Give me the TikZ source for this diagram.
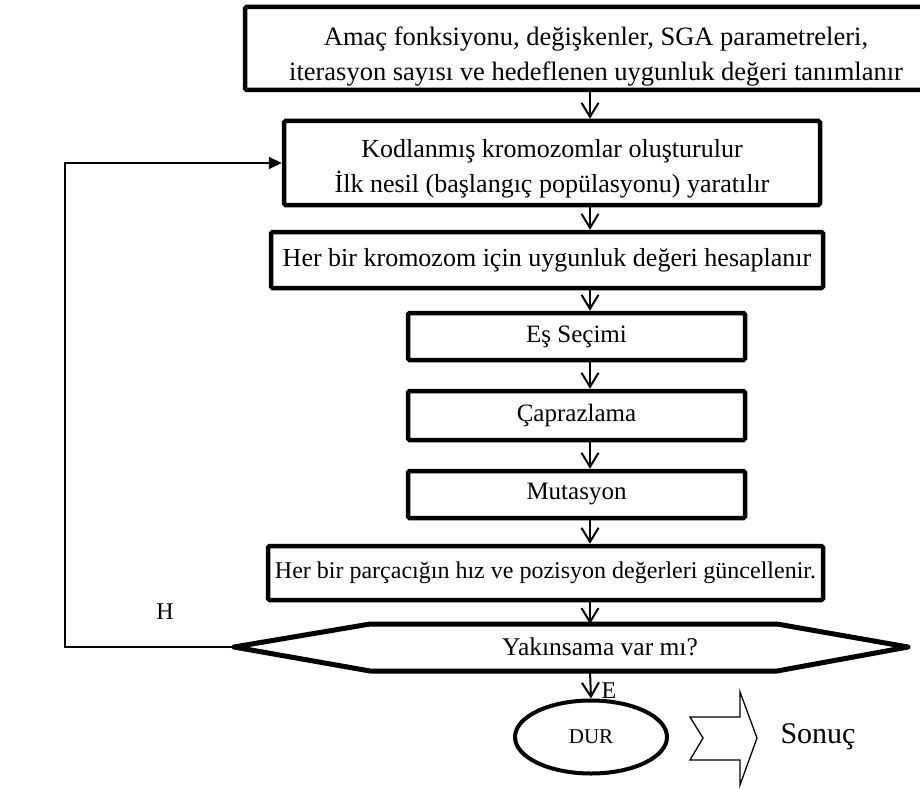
\documentclass[tikz,border=0pt]{standalone}
\usepackage{fontspec}
\setmainfont{Liberation Serif}
\usetikzlibrary{arrows.meta,shapes.geometric}
\newcommand{\toppad}[1]{\rule{0pt}{#1}}
\begin{document}
\begin{tikzpicture}[x=1pt,y=-1pt,
  box/.style={draw, line width=4.5pt, rounded corners=1.5pt, fill=white,
    align=center, inner sep=0pt},
  conn/.style={line width=2pt, -{Straight Barb[length=14pt,width=17pt,line width=2pt]}},
  loopline/.style={line width=2pt, -{Triangle[length=13pt,width=12pt]}},
  lbl/.style={font=\fontsize{24}{28}\selectfont, inner sep=0pt}
]
\useasboundingbox (0,0) rectangle (920,789);

% process boxes (the first one runs past the right border)
\node[box, minimum width=702pt, minimum height=83pt,
  font=\fontsize{26.5}{35}\selectfont] (b1) at (596,48.5)
  {\toppad{35pt}Amaç fonksiyonu, değişkenler, SGA parametreleri,\\
   iterasyon sayısı ve hedeflenen uygunluk değeri tanımlanır};
\node[box, minimum width=536pt, minimum height=84pt,
  font=\fontsize{26}{35}\selectfont] (b2) at (552,163)
  {\toppad{30pt}Kodlanmış kromozomlar oluşturulur\\
   İlk nesil (başlangıç popülasyonu) yaratılır};
\node[box, minimum width=552pt, minimum height=56pt,
  font=\fontsize{26}{30}\selectfont] (b3) at (547,260)
  {Her bir kromozom için uygunluk değeri hesaplanır};
\node[box, minimum width=337pt, minimum height=47pt,
  font=\fontsize{25}{30}\selectfont] (b4) at (576.5,336.5) {Eş Seçimi};
\node[box, minimum width=337pt, minimum height=49pt,
  font=\fontsize{25}{30}\selectfont] (b5) at (576.5,415.5) {Çaprazlama};
\node[box, minimum width=337pt, minimum height=47pt,
  font=\fontsize{25}{30}\selectfont] (b6) at (576.5,494.5) {Mutasyon};
\node[box, minimum width=555pt, minimum height=54pt,
  font=\fontsize{24}{29}\selectfont] (b7) at (545.5,573)
  {Her bir parçacığın hız ve pozisyon değerleri güncellenir.};

% decision hexagon
\coordinate (hl)  at (234,647);
\coordinate (htl) at (370,624);
\coordinate (htr) at (777,624);
\coordinate (hr)  at (908,647);
\coordinate (hbr) at (777,671);
\coordinate (hbl) at (370,671);
\draw[line width=5pt, line join=round, fill=white]
  (hl) -- (htl) -- (htr) -- (hr) -- (hbr) -- (hbl) -- cycle;
\node[font=\fontsize{25.5}{30}\selectfont, inner sep=0pt] (dec) at (600,647)
  {Yakınsama var mı?};
\coordinate (ht) at (590,624);
\coordinate (hb) at (590,671);

% terminal
\node[draw, ellipse, line width=4pt, minimum width=152pt, minimum height=73pt,
  inner sep=0pt, font=\fontsize{21}{25}\selectfont] (dur) at (591,737) {DUR};

% result arrow and label
\draw[line width=1.3pt, line join=miter]
  (690,717) -- (740,717) -- (740,692) -- (757,738) -- (740,785)
  -- (740,760) -- (690,760) -- (703,738) -- cycle;
\node[font=\fontsize{30}{34}\selectfont, inner sep=0pt] (res) at (818,737) {Sonuç};

% vertical flow
\coordinate (ax) at (590,0);
\draw[conn] (b1.south -| ax) -- (b2.north -| ax);
\draw[conn] (b2.south -| ax) -- (b3.north -| ax);
\draw[conn] (b3.south -| ax) -- (b4.north -| ax);
\draw[conn] (b4.south -| ax) -- (b5.north -| ax);
\draw[conn] (b5.south -| ax) -- (b6.north -| ax);
\draw[conn] (b6.south -| ax) -- (b7.north -| ax);
\draw[conn] (b7.south -| ax) -- (ht);
\draw[conn] (hb) -- (dur.north);
\node[lbl] (e) at (609,691) {E};

% feedback loop
\coordinate (lc) at (65,647);
\draw[loopline] (hl) -- (lc) |- (b2.west);
\node[lbl] (h) at (165,612) {H};
\end{tikzpicture}
\end{document}
